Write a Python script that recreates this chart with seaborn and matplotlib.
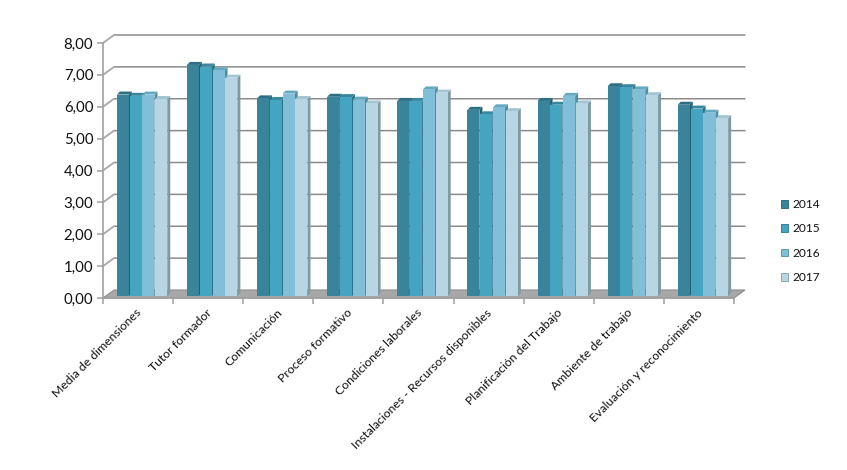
import matplotlib
matplotlib.use("Agg")
import matplotlib.pyplot as plt
from matplotlib.patches import Patch, Polygon
import pandas as pd
import seaborn as sns

categories = ["Media de dimensiones", "Tutor formador", "Comunicación", "Proceso formativo",
              "Condiciones laborales", "Instalaciones - Recursos disponibles",
              "Planificación del Trabajo", "Ambiente de trabajo", "Evaluación y reconocimiento"]
years = ["2014", "2015", "2016", "2017"]
v2014 = [6.32, 7.25, 6.20, 6.25, 6.12, 5.84, 6.12, 6.58, 6.00]
v2015 = [6.28, 7.20, 6.15, 6.24, 6.12, 5.70, 6.00, 6.55, 5.88]
v2016 = [6.32, 7.08, 6.35, 6.16, 6.48, 5.92, 6.28, 6.48, 5.75]
v2017 = [6.18, 6.85, 6.18, 6.04, 6.38, 5.80, 6.04, 6.30, 5.58]
y_ticks = [0, 1, 2, 3, 4, 5, 6, 7, 8]

front_colors = ["#39839B", "#45A4BF", "#80BFD7", "#B7D5E2"]
side_colors = ["#235F70", "#2A7287", "#4F8DA4", "#7F9AA3"]
top_colors = ["#2C6E82", "#37889F", "#66A8C0", "#A3C5D2"]
axis_color = "#A0A0A0"
grid_color = "#8C8C8C"

W, H = 847, 470
# frame position in pixels
left, right, bottom, top = 103, 734, 298, 43
wall_dx, wall_dy = 11, 8   # depth of the back wall
bar_dx, bar_dy = 4, 2      # bars stand a little behind the front edge
cap_dx, cap_dy = 3, 3      # depth of each bar

df = pd.DataFrame({"cat": categories * 4,
                   "year": [y for y in years for _ in categories],
                   "value": v2014 + v2015 + v2016 + v2017})

sns.set_style("white")
plt.rcParams["font.family"] = ["Lato", "DejaVu Sans"]

fig = plt.figure(figsize=(W / 100, H / 100), dpi=100)


def place(dx=0, dy=0):
    return [(left + dx) / W, (H - bottom + dy) / H, (right - left) / W, (bottom - top) / H]


ax = fig.add_axes(place())
bars_ax = fig.add_axes(place(bar_dx, bar_dy), zorder=3)
bars_ax.patch.set_visible(False)

# frame: wall grid, floor, axis lines
ax.set_xlim(-0.5, len(categories) - 0.5)
ax.set_ylim(0, 8)
px_x = (len(categories)) / (right - left)
px_y = 8 / (bottom - top)
wx, wy = wall_dx * px_x, wall_dy * px_y
x0, x1 = -0.5, len(categories) - 0.5

ax.add_patch(Polygon([(x0, 0), (x0 + wx, wy), (x1 + wx, wy), (x1, 0)], closed=True,
                     facecolor="#A8A8A8", edgecolor="#8C8C8C", lw=0.8, clip_on=False, zorder=1))
for t in y_ticks[1:]:
    ax.plot([x0, x0 + wx, x1 + wx], [t, t + wy, t + wy], color=grid_color, lw=1.1,
            clip_on=False, zorder=0.5)
    ax.plot([x0, x0 + wx], [t, t + wy], color="#B0B0B0", lw=1.1, clip_on=False, zorder=0.6)

for s in ["top", "right"]:
    ax.spines[s].set_visible(False)
for s in ["left", "bottom"]:
    ax.spines[s].set_color(axis_color)
    ax.spines[s].set_linewidth(1.2)

ax.set_yticks(y_ticks)
ax.set_yticklabels([f"{t:.2f}".replace(".", ",") for t in y_ticks], fontsize=10.8, color="#111111")
ax.set_xticks([i - 0.5 for i in range(len(categories) + 1)])
ax.set_xticklabels([])
ax.tick_params(axis="both", length=4, width=1.1, color=axis_color, left=True, bottom=True)
ax.tick_params(axis="y", pad=3)

for i, name in enumerate(categories):
    ax.annotate(name, xy=(i, 0), xycoords="data", xytext=(-1.5, -6.5), textcoords="offset points",
                rotation=45, rotation_mode="anchor", ha="right", va="top",
                fontsize=8.8, color="#111111", annotation_clip=False)

# bars
sns.barplot(data=df, x="cat", y="value", hue="year", hue_order=years, palette=front_colors,
            order=categories, width=0.73, gap=0.06, saturation=1, legend=False, ax=bars_ax,
            zorder=3, linewidth=0, edgecolor="none")
bars_ax.set_xlim(-0.5, len(categories) - 0.5)
bars_ax.set_ylim(0, 8)
bars_ax.axis("off")

cx, cy = cap_dx * px_x, cap_dy * px_y
for n, patch in enumerate(list(bars_ax.patches)):
    k = n // len(categories)
    a, b = patch.get_x(), patch.get_x() + patch.get_width()
    h = patch.get_height()
    bars_ax.add_patch(Polygon([(b, 0), (b + cx, cy), (b + cx, h + cy), (b, h)], closed=True,
                              facecolor=side_colors[k], edgecolor="none", clip_on=False, zorder=2))
    bars_ax.add_patch(Polygon([(a, h), (a + cx, h + cy), (b + cx, h + cy), (b, h)], closed=True,
                              facecolor=top_colors[k], edgecolor="none", clip_on=False, zorder=2.5))

handles = [Patch(facecolor=c, edgecolor=s, lw=0.6) for c, s in zip(front_colors, side_colors)]
fig.legend(handles, years, loc="center left", bbox_to_anchor=(781 / W, 1 - 241 / H), frameon=False,
           fontsize=8.6, handlelength=0.62, handleheight=0.62, handletextpad=0.3,
           labelspacing=1.11, labelcolor="#111111", borderpad=0, borderaxespad=0)

fig.savefig("out.png", dpi=100, facecolor="white")
